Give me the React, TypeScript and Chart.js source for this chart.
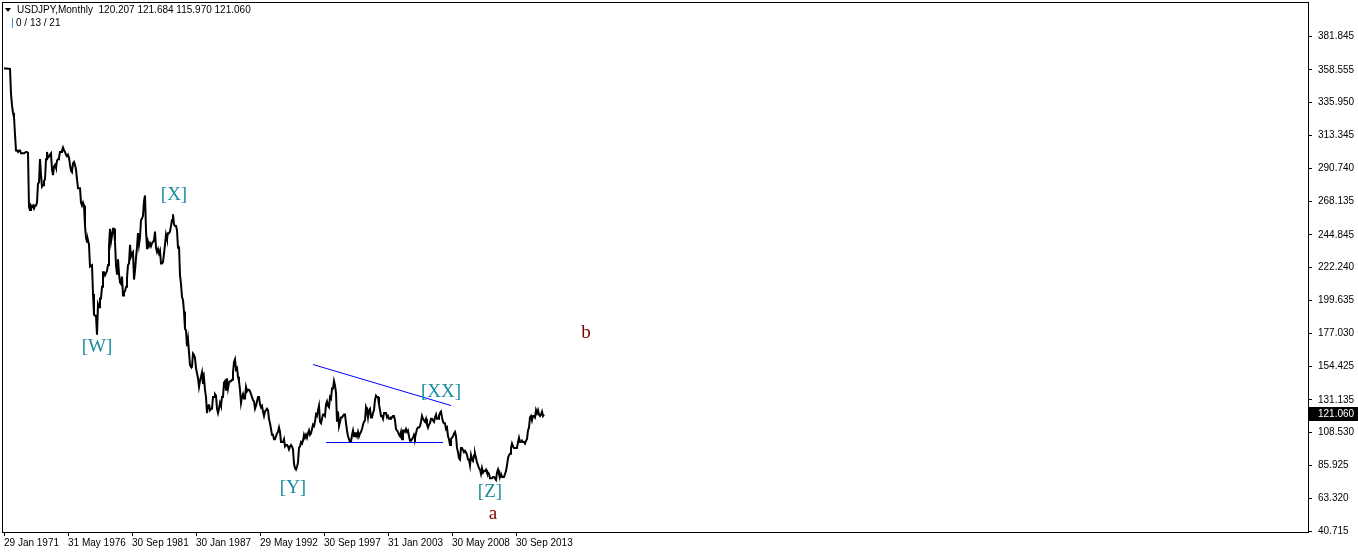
import React, { useEffect, useRef } from "react";
import { Chart, registerables } from "chart.js";

Chart.register(...registerables);

// Monthly closes, USDJPY, Jan 1971 onwards
const closes1970s = [
  359.5, 359.5, 359.4, 359.4, 359.3, 359.3, 359.2, 342, 334, 329, 326, 314,
  303, 303, 302, 303, 303, 301, 301, 301, 301, 301, 302, 302,
  301, 264, 262, 265, 264, 265, 263, 265, 265, 267, 280, 281,
  297, 286, 278, 279, 282, 283, 297, 302, 298, 299, 300, 301,
  290, 286, 292, 293, 291, 296, 297, 298, 302, 302, 303, 305,
  303, 302, 300, 299, 300, 298, 293, 289, 288, 294, 295, 293,
  290, 283, 277, 277, 277, 267, 265, 267, 265, 251, 243, 240,
  241, 238, 223, 223, 224, 204, 190, 189, 189, 176, 197, 195,
  201, 201, 209, 219, 219, 217, 217, 220, 224, 237, 249, 240,
];
const closes1980s = [
  240, 249, 249, 240, 224, 218, 228, 218, 212, 211, 216, 203,
  205, 206, 209, 215, 224, 225, 238, 230, 232, 233, 214, 220,
  229, 236, 246, 238, 243, 255, 256, 258, 268, 272, 248, 235,
  240, 237, 239, 237, 239, 240, 241, 247, 236, 233, 235, 232,
  234, 225, 225, 226, 232, 238, 245, 242, 246, 246, 247, 251,
  255, 259, 252, 251, 251, 248, 236, 237, 217, 211, 202, 200,
  192, 180, 179, 168, 173, 164, 155, 154, 154, 163, 162, 160,
  153, 153, 146, 140, 144, 147, 150, 142, 146, 138, 133, 122,
  127, 128, 124, 125, 125, 133, 133, 135, 134, 125, 122, 125,
  129, 127, 133, 133, 143, 144, 138, 146, 139, 143, 144, 144,
];
const closes1990s = [
  145, 150, 157, 159, 152, 153, 147, 144, 138, 129, 133, 135,
  132, 133, 140, 137, 138, 138, 137, 137, 133, 131, 130, 125,
  127, 130, 133, 133, 128, 126, 127, 123, 120, 123, 124, 125,
  124, 118, 115, 111, 107, 107, 104, 104, 106, 108, 109, 112,
  109, 102, 102, 102, 104, 99, 100, 100, 99, 97, 99, 100,
  99, 97, 87, 84, 83, 85, 88, 98, 99, 102, 101, 103,
  107, 105, 107, 105, 108, 110, 107, 108, 111, 114, 113, 116,
  121, 120, 124, 127, 116, 115, 118, 121, 121, 120, 128, 130,
  127, 126, 133, 132, 139, 139, 144, 141, 136, 116, 123, 113,
  116, 119, 119, 119, 121, 121, 115, 110, 106, 104, 102, 102,
];
const closes2000s = [
  107, 110, 106, 108, 108, 106, 109, 106, 108, 109, 111, 114,
  116, 117, 126, 124, 119, 124, 125, 119, 119, 122, 124, 131,
  134, 133, 133, 128, 124, 120, 120, 118, 122, 122, 122, 119,
  120, 118, 118, 119, 119, 120, 120, 117, 111, 110, 109, 107,
  106, 109, 104, 110, 110, 109, 111, 109, 110, 106, 103, 103,
  104, 105, 107, 105, 108, 111, 112, 112, 113, 116, 120, 118,
  117, 116, 118, 114, 112, 114, 115, 118, 118, 117, 116, 119,
  121, 118, 118, 120, 122, 123, 119, 116, 115, 115, 111, 112,
  106, 104, 100, 104, 105, 106, 108, 109, 106, 98, 95, 91,
  90, 98, 98, 98, 95, 96, 95, 93, 90, 90, 86, 93,
];
const closes2010s = [
  90, 89, 93, 94, 91, 88, 86, 84, 83, 80, 84, 81,
  82, 82, 83, 81, 81, 80, 77, 77, 77, 78, 78, 77,
  76, 81, 83, 80, 78, 80, 78, 78, 78, 80, 82, 86,
  91, 93, 94, 98, 101, 99, 98, 98, 98, 98, 102, 105,
  102, 102, 103, 102, 102, 101, 103, 104, 110, 112, 119, 120,
  117, 120, 120, 119, 124, 122, 124, 121, 120, 121, 123, 120,
  121.06,
];
const closes = [...closes1970s, ...closes1980s, ...closes1990s, ...closes2000s, ...closes2010s];

const yTickValues = [
  40.715, 63.32, 85.925, 108.53, 131.135, 154.425, 177.03, 199.635,
  222.24, 244.845, 268.135, 290.74, 313.345, 335.95, 358.555, 381.845,
];
const xTickMonths = [0, 64, 128, 192, 256, 320, 384, 448, 512];
const xTickLabels = [
  "29 Jan 1971", "31 May 1976", "30 Sep 1981", "30 Jan 1987", "29 May 1992",
  "30 Sep 1997", "31 Jan 2003", "30 May 2008", "30 Sep 2013",
];
const headerSymbol = "USDJPY,Monthly";
const headerOHLC = [120.207, 121.684, 115.97, 121.06];
const headerLine2 = "0 / 13 / 21";
const lastPrice = 121.06;

const TEAL = "#1a8c9c";
const MAROON = "#800000";
const waveLabels = [
  { text: "[W]", month: 93, price: 167.5, color: TEAL },
  { text: "[X]", month: 170, price: 272.3, color: TEAL },
  { text: "[Y]", month: 289, price: 70.4, color: TEAL },
  { text: "[XX]", month: 437, price: 136.5, color: TEAL },
  { text: "[Z]", month: 486, price: 67.6, color: TEAL },
  { text: "a", month: 489, price: 52.4, color: MAROON },
  { text: "b", month: 582, price: 177.2, color: MAROON },
];
const trendLines = [
  { m1: 309, p1: 155.8, m2: 447, p2: 127.5 },
  { m1: 322, p1: 102.0, m2: 439, p2: 102.0 },
];

const AXIS_FONT = "Liberation Sans";

export default function App() {
  const ref = useRef<HTMLCanvasElement | null>(null);
  useEffect(() => {
    if (!ref.current) return;
    const overlay = {
      id: "mtOverlay",
      afterDraw(chart: any) {
        const { ctx, chartArea: ca, scales } = chart;
        const xs = scales.x;
        const ys = scales.y;
        ctx.save();
        // trend lines
        ctx.save();
        ctx.beginPath();
        ctx.rect(ca.left, ca.top, ca.right - ca.left, ca.bottom - ca.top);
        ctx.clip();
        ctx.strokeStyle = "#0000ff";
        ctx.lineWidth = 1;
        trendLines.forEach((t) => {
          ctx.beginPath();
          ctx.moveTo(Math.round(xs.getPixelForValue(t.m1)), Math.round(ys.getPixelForValue(t.p1)) + 0.5);
          ctx.lineTo(Math.round(xs.getPixelForValue(t.m2)), Math.round(ys.getPixelForValue(t.p2)) + 0.5);
          ctx.stroke();
        });
        // wave labels
        ctx.font = "19px 'Liberation Serif'";
        ctx.textAlign = "center";
        ctx.textBaseline = "middle";
        waveLabels.forEach((l) => {
          ctx.fillStyle = l.color;
          ctx.fillText(l.text, xs.getPixelForValue(l.month), ys.getPixelForValue(l.price));
        });
        ctx.restore();
        // frame
        ctx.strokeStyle = "#000";
        ctx.lineWidth = 1;
        ctx.strokeRect(ca.left - 0.5, ca.top - 0.5, ca.right - ca.left + 1, ca.bottom - ca.top + 1);
        // header
        ctx.fillStyle = "#000";
        ctx.beginPath();
        ctx.moveTo(5, 8);
        ctx.lineTo(11, 8);
        ctx.lineTo(8, 12);
        ctx.closePath();
        ctx.fill();
        ctx.font = `10px '${AXIS_FONT}'`;
        ctx.textAlign = "left";
        ctx.textBaseline = "middle";
        ctx.fillText(headerSymbol + "  " + headerOHLC.map((v) => v.toFixed(3)).join(" "), 17, 10);
        ctx.fillStyle = "#3a8ee6";
        ctx.fillRect(12, 18, 1, 10);
        ctx.fillStyle = "#000";
        ctx.fillText(headerLine2, 16, 23);
        // last price tag
        const py = Math.round(ys.getPixelForValue(lastPrice));
        ctx.fillStyle = "#000";
        ctx.fillRect(ca.right + 1, py - 7, 50, 14);
        ctx.fillStyle = "#fff";
        ctx.fillText(lastPrice.toFixed(3), ca.right + 10, py);
        ctx.restore();
      },
    };
    const chart = new Chart(ref.current, {
      type: "line",
      data: {
        datasets: [
          {
            data: closes.map((v, i) => ({ x: i, y: v })),
            borderColor: "#000",
            borderWidth: 2,
            pointRadius: 0,
            tension: 0,
          },
        ],
      },
      options: {
        animation: false,
        responsive: false,
        maintainAspectRatio: false,
        layout: { padding: { left: 3, top: 3, right: 0, bottom: 0 } },
        plugins: { legend: { display: false }, tooltip: { enabled: false } },
        scales: {
          x: {
            type: "linear",
            min: -1,
            max: 1304,
            afterBuildTicks: (s: any) => {
              s.ticks = xTickMonths.map((v) => ({ value: v }));
            },
            afterFit: (s: any) => {
              s.height = 22;
              s.paddingLeft = 0;
              s.paddingRight = 0;
            },
            grid: { drawOnChartArea: false, drawTicks: true, tickLength: 4, color: "#000" },
            border: { display: false },
            ticks: {
              autoSkip: false,
              maxRotation: 0,
              minRotation: 0,
              align: "start",
              padding: 1,
              color: "#000",
              font: { family: AXIS_FONT, size: 10 },
              callback: (v: any) => {
                const i = xTickMonths.indexOf(Number(v));
                return i >= 0 ? xTickLabels[i] : "";
              },
            },
          },
          y: {
            type: "linear",
            position: "right",
            min: 40.03,
            max: 404.6,
            afterBuildTicks: (s: any) => {
              s.ticks = yTickValues.map((v) => ({ value: v }));
            },
            afterFit: (s: any) => {
              s.width = 50;
              s.paddingTop = 0;
              s.paddingBottom = 0;
            },
            grid: { drawOnChartArea: false, drawTicks: true, tickLength: 4, color: "#000" },
            border: { display: false },
            ticks: {
              padding: 6,
              color: "#000",
              font: { family: AXIS_FONT, size: 10 },
              callback: (v: any) => Number(v).toFixed(3),
            },
          },
        },
      },
      plugins: [overlay],
    });
    return () => chart.destroy();
  }, []);
  return (
    <div style={{ position: "absolute", left: 0, top: 0, width: 1358, height: 554, background: "#fff" }}>
      <canvas ref={ref} width={1358} height={554} style={{ display: "block" }} />
    </div>
  );
}
